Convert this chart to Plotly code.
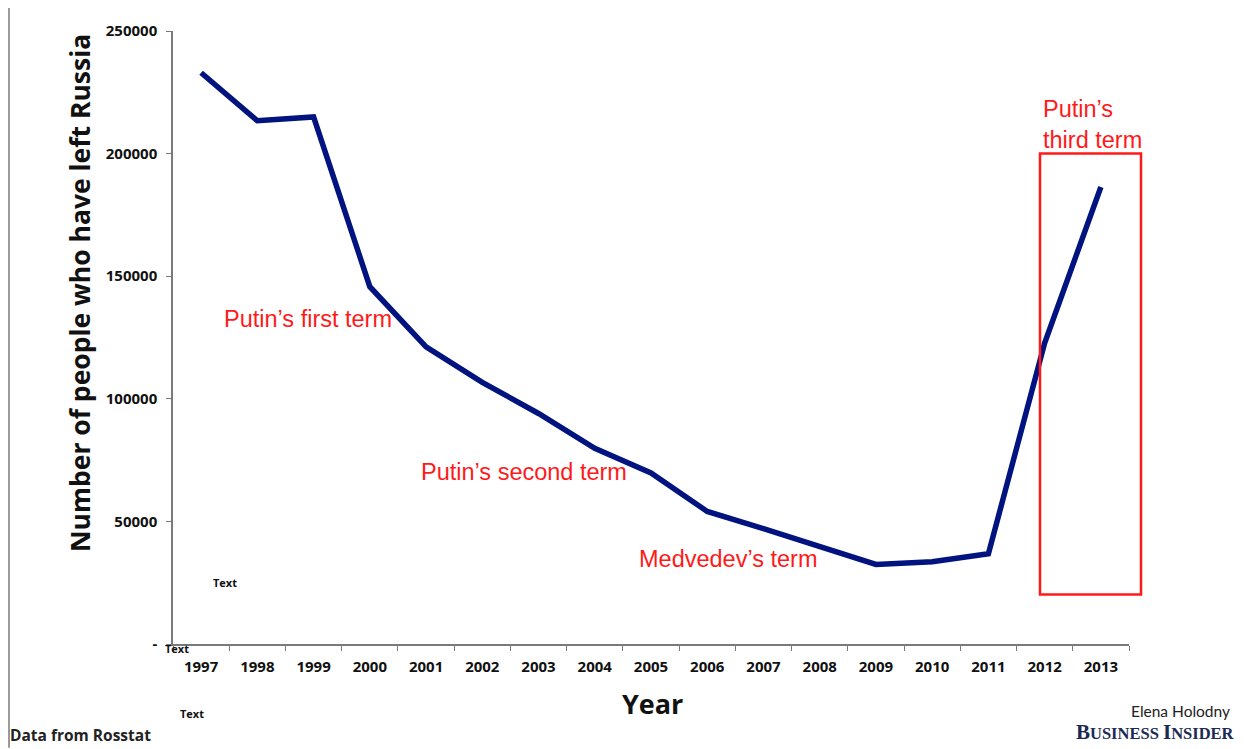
import plotly.graph_objects as go

years = [str(y) for y in range(1997, 2014)]
emigrants = [232987, 213377, 214963, 145720, 121166, 106685, 94018, 79795,
             69798, 54061, 47013, 39508, 32458, 33578, 36774, 122751, 186382]
y_ticks = [0, 50000, 100000, 150000, 200000, 250000]
y_ticktext = ["-", "50000", "100000", "150000", "200000", "250000"]

# screen size and page offset (browser body margin)
SW, SH, OFF = 1244, 749, 8
# plot area in screen pixels
L, R, T, B = 173, 1129, 24, 644


def px(x):
    return (x - L) / (R - L)


def py(y):
    return (B - y) / (B - T)


fig = go.Figure()
fig.add_trace(go.Scatter(
    x=years, y=emigrants, mode="lines",
    line=dict(color="#00137F", width=5.5),
    showlegend=False, hoverinfo="x+y",
))

tfont = dict(family="Open Sans", size=15, color="#111111", weight="bold")
fig.update_layout(
    width=SW - OFF, height=SH - OFF,
    margin=dict(l=L - OFF, r=SW - R, t=T - OFF, b=SH - B, pad=0),
    paper_bgcolor="white", plot_bgcolor="white",
    xaxis=dict(type="category", range=[-0.5, 16.5], showgrid=False,
               showline=True, linecolor="#7a7a7a", linewidth=1.5,
               ticks="outside", tickson="boundaries", ticklen=5,
               tickcolor="#7a7a7a", tickfont=tfont, zeroline=False,
               ticklabelstandoff=8),
    yaxis=dict(range=[0, 250000], showgrid=False, zeroline=False,
               showline=True, linecolor="#7a7a7a", linewidth=1.5,
               ticks="outside", ticklen=5, tickcolor="#7a7a7a",
               tickvals=y_ticks, ticktext=y_ticktext,
               tickfont=tfont, ticklabelstandoff=6),
)

red = "#FF1A1A"
ann = []


def add(text, x, y, xanchor="left", yanchor="middle", size=23.5, color=red,
        family="Liberation Sans", weight="normal", align="left", angle=0):
    ann.append(dict(text=text, x=px(x), y=py(y), xref="paper", yref="paper",
                    xanchor=xanchor, yanchor=yanchor, showarrow=False,
                    align=align, textangle=angle,
                    font=dict(size=size, color=color, family=family, weight=weight)))


add("Putin’s first term", 222, 315)
add("Putin’s second term", 419, 470)
add("Medvedev’s term", 637, 558)
add("Putin’s<br>third term", 1041, 119)
add("Text", 225, 582, xanchor="center", size=11, color="#111", family="Open Sans", weight="bold")
add("Text", 163, 649, size=11, color="#111", family="Open Sans", weight="bold")
add("Text", 192, 714, xanchor="center", size=11, color="#111", family="Open Sans", weight="bold")
add("Year", 652, 704, xanchor="center", size=27, color="#111", family="Open Sans", weight="bold")
add("Number of people who have left Russia", 80, 289, xanchor="center", size=26.5,
    color="#111", family="Open Sans", weight="bold", angle=-90)
add("Data from Rosstat", 8, 736, size=15.5, color="#222", family="Open Sans", weight="bold")
add("Elena Holodny", 1232, 712, xanchor="right", size=15.5, color="#222", family="Lato")
add("<span style='font-size:21px'>B</span>USINESS <span style='font-size:21px'>I</span>NSIDER",
    1237, 733, xanchor="right", size=16.5, color="#1B2A55", family="Liberation Serif",
    weight="bold")
fig.update_layout(annotations=ann)

fig.add_shape(type="rect", xref="paper", yref="paper",
              x0=px(1040), x1=px(1141), y0=py(594), y1=py(148),
              line=dict(color=red, width=2.5))
fig.add_shape(type="line", xref="paper", yref="paper",
              x0=px(9), x1=px(9), y0=py(749), y1=py(0),
              line=dict(color="#9a9a9a", width=2))

fig.write_html("out.html")
